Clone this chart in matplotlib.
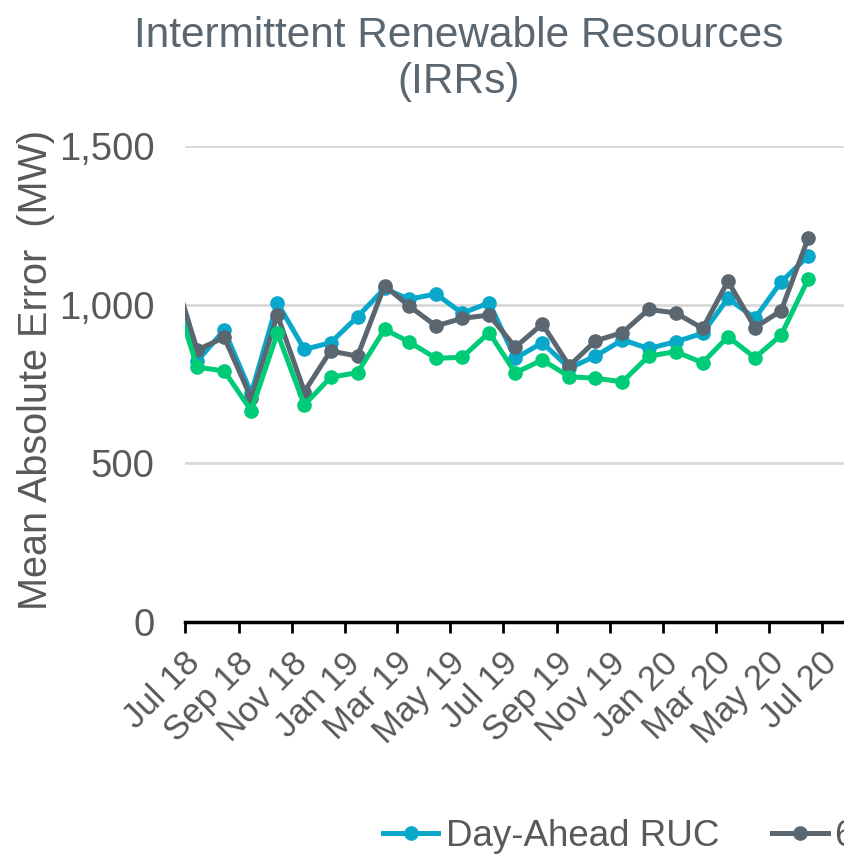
import matplotlib
matplotlib.use('Agg')
from matplotlib import pyplot as plt
import matplotlib.dates as mdates
import matplotlib.ticker as mticker
import matplotlib.transforms as mtransforms
import pandas as pd

plt.rcParams['font.family'] = ['Liberation Sans', 'DejaVu Sans']

# monthly values, Jun 18 .. Jun 20 (first point sits just left of the axis)
dates = pd.date_range('2018-06-01', periods=25, freq='MS') + pd.Timedelta(days=14)
day_ahead = [1098, 822, 920, 721, 1006, 859, 880, 962, 1051, 1017, 1034, 973, 1006,
             831, 880, 800, 838, 889, 862, 883, 910, 1020, 957, 1072, 1153]
six_hour = [1127, 857, 897, 705, 967, 726, 854, 838, 1060, 996, 933, 957, 967,
            866, 939, 807, 886, 912, 985, 974, 925, 1074, 928, 981, 1209]
real_time = [1066, 803, 791, 666, 910, 684, 771, 786, 922, 883, 831, 834, 912,
             785, 826, 773, 768, 757, 838, 852, 817, 899, 833, 904, 1080]
labels = ['Day-Ahead RUC', '6-Hour Ahead RUC', 'Real-Time']
colors = ['#09A8CA', '#5A6670', '#00CC78']

W, H = 844, 858
fig = plt.figure(figsize=(W / 100, H / 100), dpi=100)
ax = fig.add_axes([185 / W, 1 - 622 / H, (870 - 185) / W, (622 - 146) / H])

for vals, lab, c in zip([day_ahead, six_hour, real_time], labels, colors):
    ax.plot(dates, vals, color=c, lw=3.6, marker='o', ms=9.5, label=lab)

ax.set_xlim(pd.Timestamp('2018-07-01'), pd.Timestamp('2020-08-25'))
ax.set_ylim(0, 1500)
ax.yaxis.set_major_locator(mticker.MultipleLocator(500))
ax.yaxis.set_major_formatter(mticker.StrMethodFormatter('{x:,.0f}'))
ax.xaxis.set_major_locator(mdates.MonthLocator(bymonth=[1, 3, 5, 7, 9, 11]))
ax.xaxis.set_major_formatter(mdates.DateFormatter('%b %y'))

ax.grid(axis='y', color='#D9D9D9', lw=2)
ax.set_axisbelow(True)
for s in ['top', 'right', 'left']:
    ax.spines[s].set_visible(False)
ax.spines['bottom'].set_linewidth(2.5)
ax.spines['bottom'].set_zorder(5)

ax.tick_params(axis='y', length=0, pad=22, labelsize=27.5, labelcolor='#595959')
ax.tick_params(axis='x', length=8, width=2, direction='out', pad=4,
               labelsize=25, labelcolor='#595959')
shift = mtransforms.ScaledTranslation(7 / 72, -14 / 72, fig.dpi_scale_trans)
for t in ax.get_xticklabels():
    t.set_rotation(45)
    t.set_ha('right')
    t.set_va('center')
    t.set_rotation_mode('anchor')
    t.set_transform(t.get_transform() + shift)

ax.set_ylabel('Mean Absolute Error  (MW)', fontsize=28.5, color='#595959')
ax.yaxis.set_label_coords(-0.19, 0.53)

fig.text(459 / W, 1 - 47 / H, 'Intermittent Renewable Resources',
         ha='center', va='baseline', fontsize=30.5, color='#5A6670')
fig.text(459 / W, 1 - 93 / H, '(IRRs)',
         ha='center', va='baseline', fontsize=30.5, color='#5A6670')

fig.legend(loc='center left', bbox_to_anchor=(383 / W, 1 - 836 / H), ncol=3,
           frameon=False, fontsize=26.5, handlelength=1.5, handletextpad=0.2,
           columnspacing=1.45, labelcolor='#595959', borderaxespad=0, borderpad=0)

fig.savefig('out.png', dpi=100)
